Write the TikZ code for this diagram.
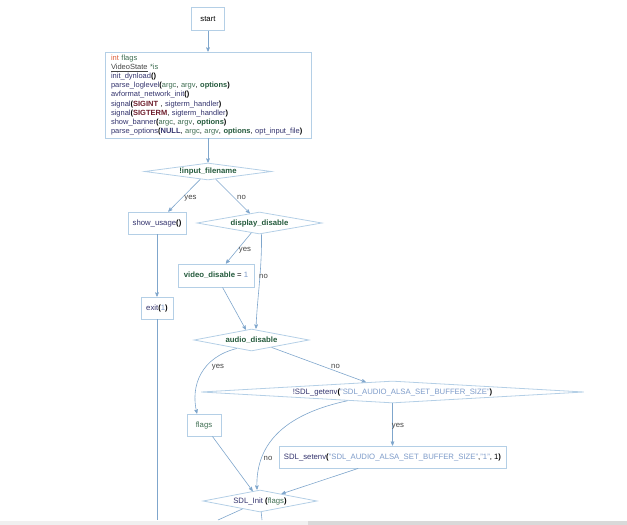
\documentclass[tikz,border=0pt]{standalone}
\usepackage{fontspec}
\setmainfont{Liberation Sans}
\usetikzlibrary{
    arrows,
    shapes,
    calc,
    positioning
}

\definecolor{boxline}{HTML}{B4CFE6}
\definecolor{arrline}{HTML}{7FA6CC}
\definecolor{fncol}{HTML}{34346E}
\definecolor{varcol}{HTML}{3F6E52}
\definecolor{kwcol}{HTML}{245A3C}
\definecolor{strcol}{HTML}{7D9BC9}
\definecolor{typecol}{HTML}{E0603A}
\definecolor{maccol}{HTML}{6E1E2C}
\definecolor{lblcol}{HTML}{444444}

\newcommand{\cfn}[1]{\textcolor{fncol}{#1}}
\newcommand{\cvar}[1]{\textcolor{varcol}{#1}}
\newcommand{\ckw}[1]{\textcolor{kwcol}{\textbf{#1}}}
\newcommand{\cstr}[1]{\textcolor{strcol}{#1}}
\newcommand{\cmac}[1]{\textcolor{maccol}{\textbf{#1}}}
\newcommand{\bopen}{\textbf{(}}
\newcommand{\bclose}{\textbf{)}}

\begin{document}
\begin{tikzpicture}[x=1pt, y=-1pt, font=\fontsize{7.75}{9.2}\selectfont,
    box/.style={draw=boxline, line width=0.8pt, inner sep=0pt, fill=white},
    cond/.style={diamond, draw=boxline, line width=0.8pt, inner sep=0pt, shape aspect=6},
    flow/.style={draw=arrline, line width=0.6pt, ->, >=stealth'},
    tail/.style={draw=arrline, line width=0.6pt},
    lbl/.style={text=lblcol, inner sep=0pt}]
                        \useasboundingbox (0,0) rectangle (627,525);
                        % scroll bar
                        \fill[black!6] (0,521) rectangle (308,525);
                        \fill[black!15] (308,521) rectangle (627,525);

                        \node[box, minimum width=33pt, minimum height=23pt] (start) at (208, 19) {start};
                        \node[box, minimum width=206pt, minimum height=86pt, text width=194pt, inner xsep=6pt, align=left,
                            font=\fontsize{7.5}{9.2}\selectfont] (setup) at (208, 95) {%
                            \textcolor{typecol}{int} \cvar{flags}\\
                            \textcolor{lblcol}{\underline{VideoState}} \cvar{*is}\\
                            \cfn{init\_dynload}\bopen\bclose\\
                            \cfn{parse\_loglevel}\bopen\cvar{argc}, \cvar{argv}, \ckw{options}\bclose\\
                            \cfn{avformat\_network\_init}\bopen\bclose\\
                            \cfn{signal}\bopen\cmac{SIGINT} , \cfn{sigterm\_handler}\bclose\\
                            \cfn{signal}\bopen\cmac{SIGTERM}, \cfn{sigterm\_handler}\bclose\\
                            \cfn{show\_banner}\bopen\cvar{argc}, \cvar{argv}, \ckw{options}\bclose\\
                            \cfn{parse\_options}\bopen\textcolor{fncol}{\textbf{NULL}}, \cvar{argc}, \cvar{argv}, \ckw{options}, \cfn{opt\_input\_file}\bclose};
                        \node[cond, shape aspect=7.5, minimum width=127pt, minimum height=17pt] (nofile) at (208, 171.5) {\ckw{!input\_filename}};
                        \node[box, minimum width=58pt, minimum height=22pt] (usage) at (157, 223) {\cfn{show\_usage}\bopen\bclose};
                        \node[cond, minimum width=125pt, minimum height=22pt] (display) at (259.5, 223) {\ckw{display\_disable}};
                        \node[box, minimum width=76pt, minimum height=23pt] (video) at (216, 275.5) {\ckw{video\_disable} = \cstr{1}};
                        \node[box, minimum width=32pt, minimum height=22pt] (exit) at (157, 308) {\cfn{exit}\bopen\cstr{1}\bclose};
                        \node[cond, minimum width=115pt, minimum height=22pt] (audio) at (251.5, 340) {\ckw{audio\_disable}};
                        \node[cond, shape aspect=17, minimum width=383pt, minimum height=22pt] (getenv) at (392.5, 392) {\cfn{!SDL\_getenv}\bopen\cstr{"SDL\_AUDIO\_ALSA\_SET\_BUFFER\_SIZE"}\bclose};
                        \node[box, minimum width=34pt, minimum height=22pt] (flags) at (204, 425) {\cvar{flags}};
                        \node[box, minimum width=227pt, minimum height=22pt] (setenv) at (392.5, 457) {\cfn{SDL\_setenv}\bopen\cstr{"SDL\_AUDIO\_ALSA\_SET\_BUFFER\_SIZE"},\cstr{"1"}, 1\bclose};
                        \node[cond, minimum width=114pt, minimum height=22pt] (sdlinit) at (260, 501) {\cfn{SDL\_Init} \bopen\cvar{flags}\bclose};

                        \coordinate (exitend) at (157, 520);
                        \coordinate (initleft) at (218, 520);
                        \coordinate (initdown) at (262, 520);

                        \draw
                        (start) edge[flow] (setup)
                        (setup) edge[flow] (nofile)
                        (nofile) edge[flow] (usage)
                        (nofile) edge[flow] (display)
                        (display) edge[flow] (video)
                        (usage) edge[flow] (exit)
                        (video) edge[flow] (audio)
                        (audio) edge[flow] (getenv)
                        (getenv) edge[flow] (setenv)
                        (flags) edge[flow] (sdlinit)
                        (setenv) edge[flow] (sdlinit);

                        \draw[flow] ([xshift=2pt]display.south) .. controls (262, 270) and (257, 300) .. ([xshift=4.5pt]audio.north);
                        \draw[flow] (audio.210) .. controls (202, 357) and (190, 385) .. ([xshift=-7pt]flags.north);
                        \draw[flow] (getenv.191) .. controls (290, 413) and (255, 440) .. ([xshift=-3pt]sdlinit.north);

                        \draw[tail] (exit) -- (exitend);
                        \draw[tail] (sdlinit) -- (initleft);
                        \draw[tail] (sdlinit) -- (initdown);

                        \node[lbl] (l1) at (190.5, 198) {yes};
                        \node[lbl] (l2) at (241.5, 197) {no};
                        \node[lbl] (l3) at (245, 250) {yes};
                        \node[lbl] (l4) at (263.5, 276) {no};
                        \node[lbl] (l5) at (218, 367) {yes};
                        \node[lbl] (l6) at (335.5, 366) {no};
                        \node[lbl] (l7) at (398, 426) {yes};
                        \node[lbl] (l8) at (268, 458) {no};
                    \end{tikzpicture}
\end{document}
